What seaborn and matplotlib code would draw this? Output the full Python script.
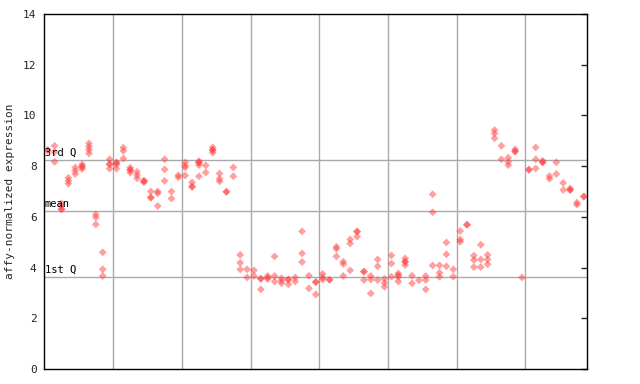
import matplotlib
matplotlib.use("Agg")
import matplotlib.pyplot as plt
import seaborn as sns
import pandas as pd

# expression values per sample (replicates)
sample_values = [
    [8.64, 8.62], [8.8, 8.55, 8.17], [6.53, 6.43, 6.3, 6.3], [7.54, 7.42, 7.31],
    [7.95, 7.82, 7.69], [8.07, 7.98, 7.98, 7.89], [8.9, 8.77, 8.64, 8.5],
    [6.1, 5.98, 5.7], [4.6, 3.93, 3.67], [8.27, 8.08, 8.08, 7.9],
    [8.14, 8.14, 8.06, 7.9], [8.73, 8.6, 8.3], [7.94, 7.85, 7.85, 7.74],
    [7.78, 7.65, 7.52], [7.42, 7.42, 7.36], [7.0, 6.76, 6.76], [7.0, 6.93, 6.43],
    [8.27, 7.87, 7.42], [7.0, 6.72], [7.64, 7.56],
    [8.15, 8.02, 7.95, 7.63], [7.36, 7.19, 7.19], [8.2, 8.14, 8.14, 8.04, 7.6],
    [8.03, 7.75], [8.74, 8.64, 8.64, 8.53], [7.71, 7.5, 7.4], [6.99, 6.99],
    [7.95, 7.6], [4.5, 4.19, 3.93], [3.93, 3.61],
    [3.89, 3.67], [3.56, 3.56, 3.14], [3.67, 3.6, 3.55], [4.44, 3.67, 3.45],
    [3.58, 3.48, 3.38], [3.53, 3.53, 3.34], [3.61, 3.45], [5.43, 4.56, 4.22],
    [3.68, 3.18], [3.43, 3.43, 2.94],
    [3.75, 3.61, 3.53], [3.52, 3.52], [4.82, 4.74, 4.44], [4.23, 4.14, 3.67],
    [5.11, 4.95, 3.89], [5.42, 5.42, 5.22], [3.84, 3.84, 3.51], [3.67, 3.53, 2.98],
    [4.32, 4.05, 3.51], [3.56, 3.4, 3.24],
    [4.48, 4.16, 3.64], [3.77, 3.7, 3.64, 3.45], [4.36, 4.23, 4.23, 4.1],
    [3.68, 3.38], [3.5], [3.67, 3.51, 3.14], [6.89, 6.18, 4.08],
    [4.09, 3.8, 3.64], [4.99, 4.52, 4.05], [3.93, 3.64],
    [5.44, 5.11, 5.02], [5.69, 5.69], [4.47, 4.3, 4.02], [4.9, 4.32, 4.02],
    [4.5, 4.32, 4.13], [9.42, 9.29, 9.1], [8.8, 8.27], [8.33, 8.17, 8.04],
    [8.66, 8.58, 8.58], [3.61],
    [7.86, 7.86], [8.74, 8.27, 7.91], [8.21, 8.15, 8.15], [7.61, 7.5],
    [8.15, 7.69], [7.34, 7.06], [7.12, 7.06, 7.06], [6.56, 6.48], [6.8, 6.8],
]

ref_labels = ["3rd Q", "mean", "1st Q"]
ref_values = [8.24, 6.23, 3.63]
y_ticks = [0, 2, 4, 6, 8, 10, 12, 14]
y_label = "affy-normalized expression"
group_size = 10

rows = []
for i, vals in enumerate(sample_values):
    for v in vals:
        rows.append({"sample": i, "expression": v})
df = pd.DataFrame(rows)
n = len(sample_values)

sns.set_style("white")
plt.rcParams["font.family"] = ["DejaVu Sans Mono"]

fig = plt.figure(figsize=(6.4, 3.84), dpi=100)
ax = fig.add_axes([44.3 / 640, 1 - 369 / 384, (587.3 - 44.3) / 640, (369 - 14) / 384])

# grid lines
for g in range(group_size, n, group_size):
    ax.axvline(g - 0.5, color="#aaaaaa", lw=1.0, zorder=1)
for lab, val in zip(ref_labels, ref_values):
    ax.axhline(val, color="#aaaaaa", lw=1.0, zorder=1)
    ax.text(-0.45, val + 0.08, lab, fontsize=7.5, color="black",
            ha="left", va="bottom", zorder=3)

sns.scatterplot(data=df, x="sample", y="expression", marker="D", s=16,
                color="#ff4040", alpha=0.5, edgecolor="none", linewidth=0,
                ax=ax, zorder=2, legend=False)

ax.set_xlim(-0.5, n - 0.5)
ax.set_ylim(0, 14)
ax.set_yticks(y_ticks)
ax.set_yticklabels([str(t) for t in y_ticks], fontsize=8)
ax.set_xticks([])
ax.set_xlabel("")
ax.set_ylabel(y_label, fontsize=8, labelpad=6)
ax.tick_params(axis="y", direction="inout", length=7, width=1, color="black", pad=2)
for sp in ax.spines.values():
    sp.set_visible(True)
    sp.set_color("black")
    sp.set_linewidth(1.0)

sec = ax.secondary_yaxis("right")
sec.set_yticks(y_ticks)
sec.tick_params(axis="y", direction="in", length=4, width=1, labelright=False)
sec.spines["right"].set_visible(False)

fig.savefig("out.png", dpi=100, facecolor="white")
